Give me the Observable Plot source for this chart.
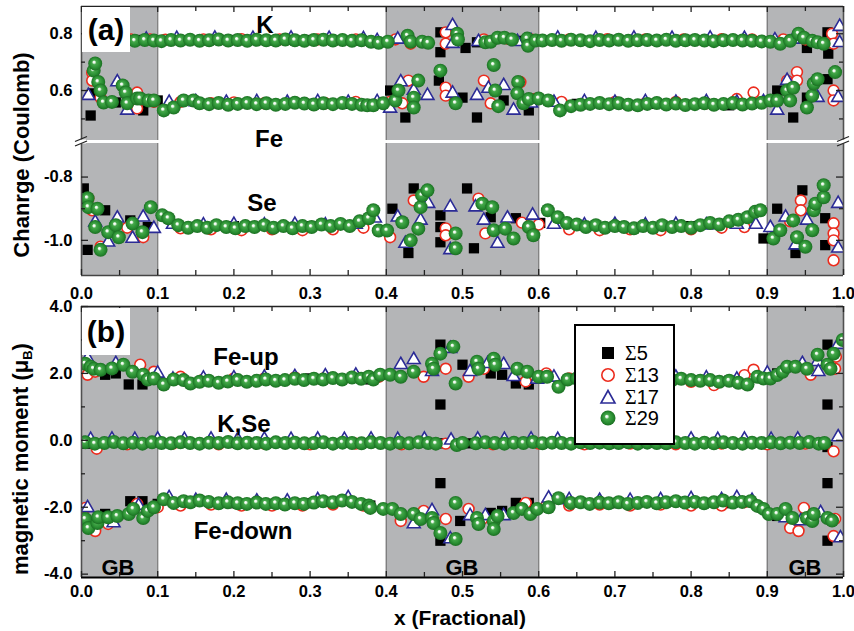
<!DOCTYPE html>
<html><head><meta charset="utf-8">
<script src="https://cdn.jsdelivr.net/npm/d3@7"></script>
<script src="https://cdn.jsdelivr.net/npm/@observablehq/plot@0.6"></script>
<style>
body{margin:0;background:#fff;}
#wrap{position:relative;width:854px;height:631px;overflow:hidden;font-family:"Liberation Sans",Arial,sans-serif;font-weight:bold;color:#000;background:#fff;}
.pl{position:absolute;left:0;}
.lbl{position:absolute;transform:translate(-50%,-50%);white-space:nowrap;font-size:24px;line-height:1;}
.rot{position:absolute;transform:translate(-50%,-50%) rotate(-90deg);white-space:nowrap;font-size:22px;line-height:1;}
.tag{position:absolute;background:#fff;font-size:30px;display:flex;align-items:center;justify-content:center;}
</style></head><body>
<svg width="0" height="0" style="position:absolute"><defs>
<radialGradient id="sphere" cx="0.5" cy="0.5" r="0.5" fx="0.4" fy="0.38">
<stop offset="0" stop-color="#ffffff"/>
<stop offset="0.14" stop-color="#eef8ee"/>
<stop offset="0.32" stop-color="#45a84a"/>
<stop offset="0.7" stop-color="#2a8f33"/>
<stop offset="1" stop-color="#1b6f22"/>
</radialGradient></defs></svg>
<div id="wrap"></div>
<script>
// ---------- axis / category data ----------
const xTicks = [0,0.1,0.2,0.3,0.4,0.5,0.6,0.7,0.8,0.9,1.0];
const xMinor = [0.05,0.15,0.25,0.35,0.45,0.55,0.65,0.75,0.85,0.95];
const gbStart = [0,0.4,0.9];
const gbEnd = [0.1,0.6,1.0];
const gbLabel = ["GB","GB","GB"];
const chargeTopTicks = [0.6,0.8], chargeTopMinor = [0.5,0.7];
const chargeSeTicks = [-1.0,-0.8], chargeSeMinor = [-0.9];
const momentTicks = [-4,-2,0,2,4], momentMinor = [-3,-1,1,3];
const seriesNames = ["Σ5","Σ13","Σ17","Σ29"];

// ---------- K charge ----------
const K_s5 = [[0.03,0.778],[0.08,0.778],[0.2,0.778],[0.3,0.778],[0.471,0.805],[0.471,0.735],[0.504,0.75],[0.519,0.77],[0.572,0.775],[0.7,0.778],[0.8,0.778],[0.952,0.75],[0.979,0.805],[0.98,0.73]];
const K_s13 = [[0.015,0.775],[0.04,0.78],[0.065,0.78],[0.09,0.78],[0.11,0.779],[0.16,0.78],[0.21,0.781],[0.26,0.78],[0.31,0.78],[0.36,0.78],[0.412,0.78],[0.432,0.765],[0.478,0.805],[0.478,0.765],[0.528,0.78],[0.56,0.782],[0.59,0.78],[0.64,0.78],[0.69,0.781],[0.74,0.78],[0.79,0.78],[0.84,0.781],[0.88,0.78],[0.921,0.78],[0.95,0.78],[0.985,0.80],[0.987,0.765]];
const K_s17 = [[0.01,0.778],[0.035,0.78],[0.06,0.78],[0.085,0.78],[0.125,0.783],[0.175,0.784],[0.225,0.783],[0.275,0.784],[0.325,0.783],[0.37,0.782],[0.388,0.775],[0.415,0.78],[0.487,0.828],[0.487,0.765],[0.521,0.772],[0.572,0.772],[0.59,0.775],[0.625,0.784],[0.675,0.783],[0.725,0.784],[0.775,0.783],[0.825,0.784],[0.87,0.783],[0.91,0.778],[0.934,0.78],[0.995,0.825],[0.995,0.768]];
const K_s29 = [[0.008,0.765],[0.02,0.772],[0.033,0.778],[0.045,0.776],[0.058,0.779],[0.07,0.775],[0.083,0.778],[0.095,0.776],
 [0.105,0.774],[0.1175,0.778],[0.13,0.776],[0.1425,0.779],[0.155,0.775],[0.1675,0.777],[0.18,0.780],[0.1925,0.776],[0.205,0.778],[0.2175,0.775],[0.23,0.779],[0.2425,0.777],[0.255,0.776],[0.2675,0.780],[0.28,0.777],[0.2925,0.775],[0.305,0.778],[0.3175,0.779],[0.33,0.776],[0.3425,0.778],[0.355,0.775],[0.3675,0.777],[0.38,0.772],
 [0.39,0.768],[0.402,0.772],[0.428,0.793],[0.432,0.772],[0.447,0.772],[0.455,0.768],[0.493,0.80],[0.494,0.78],[0.53,0.77],[0.537,0.772],[0.546,0.786],[0.555,0.786],[0.565,0.78],[0.585,0.783],[0.586,0.758],[0.596,0.776],
 [0.605,0.776],[0.6175,0.778],[0.63,0.775],[0.6425,0.779],[0.655,0.777],[0.6675,0.774],[0.68,0.778],[0.6925,0.776],[0.705,0.779],[0.7175,0.775],[0.73,0.777],[0.7425,0.778],[0.755,0.776],[0.7675,0.779],[0.78,0.775],[0.7925,0.777],[0.805,0.778],[0.8175,0.776],[0.83,0.774],[0.8425,0.777],[0.855,0.778],[0.8675,0.776],[0.88,0.775],[0.8925,0.773],
 [0.904,0.772],[0.917,0.765],[0.93,0.775],[0.941,0.80],[0.948,0.786],[0.959,0.775],[0.966,0.77],[0.974,0.765]];

// ---------- Fe charge ----------
const Fe_s5 = [[0.012,0.512],[0.016,0.59],[0.045,0.558],[0.081,0.53],[0.1,0.565],[0.3,0.553],[0.35,0.553],[0.405,0.60],[0.425,0.505],[0.469,0.635],[0.5,0.575],[0.519,0.505],[0.554,0.565],[0.587,0.53],[0.65,0.553],[0.75,0.553],[0.85,0.548],[0.913,0.60],[0.934,0.505],[0.952,0.575],[0.979,0.64]];
const Fe_s13 = [[0.014,0.663],[0.014,0.635],[0.025,0.575],[0.073,0.593],[0.073,0.537],[0.095,0.56],[0.13,0.56],[0.17,0.555],[0.2,0.558],[0.24,0.555],[0.28,0.558],[0.32,0.555],[0.36,0.56],[0.405,0.56],[0.421,0.555],[0.429,0.635],[0.478,0.61],[0.478,0.582],[0.528,0.635],[0.537,0.555],[0.576,0.63],[0.595,0.57],[0.63,0.56],[0.66,0.555],[0.7,0.56],[0.74,0.555],[0.78,0.56],[0.82,0.555],[0.86,0.57],[0.882,0.593],[0.926,0.635],[0.939,0.665],[0.939,0.635],[0.987,0.60],[0.987,0.565]];
const Fe_s17 = [[0.009,0.582],[0.047,0.63],[0.06,0.53],[0.08,0.565],[0.115,0.558],[0.15,0.56],[0.19,0.558],[0.23,0.56],[0.27,0.558],[0.31,0.56],[0.35,0.558],[0.388,0.56],[0.405,0.537],[0.419,0.63],[0.436,0.60],[0.454,0.582],[0.487,0.59],[0.519,0.582],[0.534,0.607],[0.554,0.617],[0.567,0.53],[0.59,0.555],[0.62,0.558],[0.66,0.56],[0.7,0.558],[0.74,0.56],[0.78,0.558],[0.82,0.56],[0.86,0.558],[0.895,0.56],[0.913,0.53],[0.926,0.635],[0.966,0.575],[0.993,0.575]];
const Fe_s29 = [[0.016,0.67],[0.018,0.695],[0.022,0.63],[0.025,0.60],[0.029,0.558],[0.04,0.56],[0.054,0.618],[0.058,0.593],[0.06,0.555],[0.073,0.572],[0.077,0.572],[0.088,0.565],[0.095,0.565],
 [0.108,0.53],[0.121,0.54],[0.134,0.565],[0.147,0.565],[0.155,0.555],[0.1675,0.552],[0.18,0.556],[0.1925,0.55],[0.205,0.553],[0.2175,0.556],[0.23,0.552],[0.2425,0.555],[0.255,0.55],[0.2675,0.553],[0.28,0.557],[0.2925,0.554],[0.305,0.551],[0.3175,0.555],[0.33,0.552],[0.3425,0.556],[0.355,0.553],[0.3675,0.55],[0.375,0.548],
 [0.383,0.548],[0.396,0.555],[0.412,0.565],[0.416,0.60],[0.436,0.575],[0.436,0.54],[0.442,0.635],[0.471,0.67],[0.491,0.555],[0.541,0.69],[0.543,0.60],[0.547,0.545],[0.573,0.63],[0.572,0.59],[0.58,0.555],[0.587,0.57],[0.6,0.572],
 [0.6125,0.565],[0.628,0.53],[0.6425,0.545],[0.655,0.55],[0.6675,0.553],[0.68,0.556],[0.6925,0.552],[0.705,0.555],[0.7175,0.55],[0.73,0.548],[0.7425,0.553],[0.755,0.556],[0.7675,0.551],[0.78,0.554],[0.7925,0.549],[0.805,0.552],[0.8175,0.555],[0.83,0.55],[0.8425,0.553],[0.855,0.556],[0.8675,0.551],[0.88,0.554],[0.8925,0.557],
 [0.904,0.565],[0.913,0.565],[0.926,0.60],[0.93,0.565],[0.934,0.61],[0.952,0.54],[0.959,0.582],[0.961,0.625],[0.966,0.64],[0.989,0.665]];

// ---------- Se charge ----------
const Se_s5 = [[0.003,-0.836],[0.005,-0.88],[0.008,-1.03],[0.031,-0.905],[0.064,-0.937],[0.087,-0.958],[0.2,-0.955],[0.3,-0.955],[0.408,-0.9],[0.429,-1.04],[0.436,-0.836],[0.471,-0.921],[0.471,-0.958],[0.471,-1.006],[0.506,-0.836],[0.515,-1.025],[0.537,-0.927],[0.57,-0.93],[0.602,-0.945],[0.7,-0.955],[0.8,-0.955],[0.895,-0.994],[0.913,-0.9],[0.937,-1.04],[0.946,-0.842],[0.976,-0.93],[0.976,-1.015]];
const Se_s13 = [[0.009,-0.867],[0.014,-0.905],[0.025,-1.02],[0.06,-0.96],[0.081,-0.99],[0.13,-0.962],[0.17,-0.965],[0.21,-0.968],[0.25,-0.965],[0.29,-0.968],[0.33,-0.965],[0.37,-0.96],[0.405,-0.99],[0.436,-0.874],[0.478,-0.962],[0.478,-0.984],[0.521,-0.868],[0.53,-0.978],[0.578,-0.944],[0.6,-0.95],[0.64,-0.965],[0.68,-0.968],[0.72,-0.965],[0.76,-0.968],[0.8,-0.965],[0.84,-0.96],[0.87,-0.958],[0.93,-0.94],[0.944,-0.874],[0.944,-0.905],[0.987,-0.946],[0.987,-0.978],[0.987,-1.0],[0.987,-1.063]];
const Se_s17 = [[0.018,-0.943],[0.035,-1.006],[0.047,-0.93],[0.067,-0.994],[0.081,-0.927],[0.095,-0.963],[0.12,-0.95],[0.16,-0.952],[0.2,-0.95],[0.24,-0.952],[0.28,-0.95],[0.32,-0.952],[0.36,-0.95],[0.385,-0.93],[0.415,-0.927],[0.425,-1.01],[0.445,-0.937],[0.455,-0.884],[0.484,-0.895],[0.484,-1.03],[0.517,-0.895],[0.528,-0.937],[0.546,-1.01],[0.559,-0.93],[0.592,-0.921],[0.62,-0.95],[0.66,-0.952],[0.7,-0.95],[0.74,-0.952],[0.78,-0.95],[0.82,-0.952],[0.86,-0.95],[0.885,-0.95],[0.904,-0.96],[0.924,-0.927],[0.937,-1.015],[0.952,-0.937],[0.993,-0.884],[0.993,-1.025]];
const Se_s29 = [[0.008,-0.867],[0.009,-0.895],[0.021,-0.9],[0.018,-0.958],[0.025,-1.03],[0.035,-0.974],[0.045,-0.952],[0.049,-0.99],[0.067,-0.947],[0.08,-0.974],[0.091,-0.895],
 [0.106,-0.921],[0.114,-0.93],[0.127,-0.952],[0.14,-0.96],[0.152,-0.955],[0.165,-0.96],[0.177,-0.952],[0.19,-0.958],[0.202,-0.962],[0.215,-0.955],[0.227,-0.958],[0.24,-0.952],[0.252,-0.96],[0.265,-0.955],[0.277,-0.962],[0.29,-0.955],[0.302,-0.958],[0.315,-0.95],[0.327,-0.955],[0.34,-0.948],[0.352,-0.955],[0.365,-0.94],[0.377,-0.93],
 [0.383,-0.905],[0.39,-0.969],[0.401,-0.969],[0.421,-0.943],[0.432,-1.0],[0.442,-0.963],[0.445,-0.895],[0.447,-0.858],[0.454,-0.842],[0.491,-0.978],[0.491,-1.025],[0.526,-0.884],[0.539,-0.895],[0.541,-0.968],[0.556,-0.963],[0.567,-0.994],[0.587,-0.958],[0.593,-0.984],
 [0.612,-0.905],[0.625,-0.927],[0.637,-0.945],[0.65,-0.95],[0.662,-0.958],[0.675,-0.952],[0.687,-0.96],[0.7,-0.955],[0.712,-0.958],[0.725,-0.962],[0.737,-0.955],[0.75,-0.96],[0.762,-0.952],[0.775,-0.958],[0.787,-0.955],[0.8,-0.96],[0.812,-0.952],[0.825,-0.945],[0.837,-0.95],[0.85,-0.94],[0.862,-0.935],[0.874,-0.927],[0.884,-0.91],[0.891,-0.905],
 [0.908,-0.994],[0.917,-0.968],[0.934,-0.937],[0.939,-0.99],[0.95,-1.02],[0.959,-0.968],[0.961,-0.905],[0.963,-0.884],[0.974,-0.864],[0.974,-0.826]];

// ---------- Fe-up moment ----------
const FeUp_s5 = [[0.031,1.96],[0.045,2.0],[0.062,1.67],[0.08,1.67],[0.2,1.8],[0.3,1.85],[0.379,1.82],[0.471,2.86],[0.471,1.07],[0.5,2.26],[0.537,2.0],[0.552,1.96],[0.57,1.7],[0.587,1.67],[0.7,1.82],[0.8,1.8],[0.85,1.78],[0.913,2.0],[0.979,2.86],[0.979,1.07]];
const FeUp_s13 = [[0.008,1.96],[0.018,2.05],[0.077,2.26],[0.095,2.05],[0.13,1.9],[0.16,1.82],[0.2,1.85],[0.24,1.85],[0.28,1.88],[0.32,1.88],[0.36,1.9],[0.39,1.9],[0.449,1.9],[0.478,2.14],[0.508,1.9],[0.528,2.14],[0.583,1.76],[0.61,2.0],[0.64,1.85],[0.68,1.88],[0.72,1.85],[0.76,1.88],[0.8,1.75],[0.83,1.65],[0.87,1.95],[0.882,2.11],[0.957,1.96],[0.989,2.14],[0.99,2.5]];
const FeUp_s17 = [[0.008,2.44],[0.045,2.29],[0.1,2.0],[0.12,1.82],[0.16,1.85],[0.2,1.86],[0.24,1.88],[0.28,1.9],[0.32,1.92],[0.36,1.94],[0.419,2.26],[0.436,2.41],[0.46,2.05],[0.484,2.74],[0.51,2.05],[0.533,2.29],[0.554,2.26],[0.567,1.9],[0.598,1.82],[0.62,1.88],[0.66,1.9],[0.7,1.88],[0.74,1.9],[0.78,1.88],[0.82,1.86],[0.86,1.82],[0.9,2.0],[0.946,2.29],[0.966,2.35],[0.967,2.05],[0.993,2.86]];
const FeUp_s29 = [[0.005,2.29],[0.012,2.2],[0.016,2.14],[0.025,2.11],[0.04,2.15],[0.055,2.26],[0.067,2.05],[0.081,1.96],[0.087,1.82],[0.095,1.85],
 [0.108,1.67],[0.121,1.82],[0.134,1.8],[0.143,1.7],[0.155,1.75],[0.167,1.78],[0.18,1.72],[0.192,1.76],[0.205,1.8],[0.217,1.75],[0.23,1.78],[0.242,1.82],[0.255,1.78],[0.267,1.8],[0.28,1.84],[0.292,1.8],[0.305,1.84],[0.317,1.82],[0.33,1.86],[0.342,1.82],[0.355,1.88],[0.367,1.84],[0.377,1.9],
 [0.383,1.82],[0.392,1.96],[0.405,1.96],[0.419,1.9],[0.436,2.05],[0.46,2.29],[0.462,2.14],[0.471,2.59],[0.488,2.8],[0.491,1.7],[0.519,2.35],[0.521,2.14],[0.541,2.44],[0.543,2.26],[0.572,2.14],[0.585,2.05],[0.6,1.9],
 [0.611,1.9],[0.626,1.6],[0.638,1.82],[0.65,1.85],[0.662,1.8],[0.675,1.82],[0.687,1.78],[0.7,1.82],[0.712,1.8],[0.725,1.84],[0.737,1.8],[0.75,1.82],[0.762,1.78],[0.775,1.8],[0.787,1.84],[0.8,1.8],[0.812,1.78],[0.825,1.8],[0.837,1.75],[0.85,1.78],[0.862,1.72],[0.874,1.67],[0.887,1.9],[0.895,1.85],
 [0.904,1.85],[0.913,1.95],[0.92,2.05],[0.926,2.2],[0.937,2.2],[0.952,2.14],[0.966,2.56],[0.979,2.26],[0.983,2.14],[0.987,2.59],[0.999,3.0]];

// ---------- K,Se moment ----------
const KSe_s5 = [[0.005,-0.1],[0.2,-0.08],[0.3,-0.08],[0.471,-0.09],[0.506,-0.09],[0.7,-0.08],[0.8,-0.08],[0.979,-0.2]];
const KSe_s13 = [[0.02,-0.25],[0.06,-0.12],[0.12,-0.1],[0.18,-0.12],[0.24,-0.1],[0.3,-0.12],[0.36,-0.1],[0.42,-0.12],[0.478,-0.1],[0.54,-0.12],[0.6,-0.1],[0.66,-0.12],[0.72,-0.1],[0.78,-0.12],[0.84,-0.1],[0.9,-0.12],[0.95,-0.1],[0.987,-0.33]];
const KSe_s17 = [[0.012,0.02],[0.04,0.03],[0.07,0.02],[0.1,0.03],[0.135,0.02],[0.17,0.03],[0.205,0.02],[0.24,0.03],[0.275,0.02],[0.31,0.03],[0.345,0.02],[0.38,0.03],[0.415,0.02],[0.45,0.03],[0.485,0.0],[0.52,0.03],[0.555,0.02],[0.59,0.03],[0.625,0.02],[0.66,0.03],[0.695,0.02],[0.73,0.03],[0.765,0.02],[0.8,0.03],[0.835,0.02],[0.87,0.03],[0.905,0.02],[0.94,0.03],[0.993,0.1]];
const KSe_s29 = [[0.005,-0.06],[0.0175,-0.1],[0.03,-0.08],[0.0425,-0.05],[0.055,-0.09],[0.0675,-0.07],[0.08,-0.1],[0.0925,-0.06],[0.105,-0.08],[0.1175,-0.09],[0.13,-0.06],[0.1425,-0.08],[0.155,-0.1],[0.1675,-0.07],[0.18,-0.08],[0.1925,-0.05],[0.205,-0.09],[0.2175,-0.07],[0.23,-0.08],[0.2425,-0.1],[0.255,-0.06],[0.2675,-0.08],[0.28,-0.07],[0.2925,-0.09],[0.305,-0.08],[0.3175,-0.06],[0.33,-0.1],[0.3425,-0.07],[0.355,-0.08],[0.3675,-0.09],[0.38,-0.06],[0.3925,-0.08],[0.405,-0.1],[0.4175,-0.07],[0.43,-0.09],[0.4425,-0.06],[0.455,-0.08],[0.465,-0.1],[0.4925,-0.14],[0.5,-0.08],[0.5175,-0.09],[0.53,-0.06],[0.5425,-0.08],[0.555,-0.1],[0.5675,-0.07],[0.58,-0.08],[0.5925,-0.05],[0.605,-0.09],[0.6175,-0.07],[0.63,-0.08],[0.6425,-0.1],[0.655,-0.06],[0.6675,-0.08],[0.68,-0.07],[0.6925,-0.09],[0.705,-0.08],[0.7175,-0.06],[0.73,-0.1],[0.7425,-0.07],[0.755,-0.08],[0.7675,-0.09],[0.78,-0.06],[0.7925,-0.08],[0.805,-0.1],[0.8175,-0.07],[0.83,-0.09],[0.8425,-0.06],[0.855,-0.08],[0.8675,-0.1],[0.88,-0.07],[0.8925,-0.08],[0.905,-0.06],[0.9175,-0.09],[0.93,-0.07],[0.9425,-0.08],[0.955,-0.05],[0.9675,-0.1],[0.975,-0.08]];

// ---------- Fe-down moment ----------
const FeDown_s5 = [[0.031,-2.2],[0.064,-1.82],[0.08,-1.82],[0.1,-1.9],[0.2,-1.88],[0.3,-1.88],[0.379,-1.95],[0.471,-1.28],[0.471,-3.0],[0.497,-2.41],[0.537,-2.17],[0.552,-2.11],[0.57,-1.87],[0.587,-1.87],[0.7,-1.88],[0.8,-1.88],[0.85,-1.88],[0.913,-2.26],[0.979,-1.28],[0.979,-3.0]];
const FeDown_s13 = [[0.005,-2.02],[0.018,-2.71],[0.035,-2.5],[0.073,-1.9],[0.1,-2.0],[0.13,-1.95],[0.17,-1.92],[0.21,-1.95],[0.25,-1.95],[0.29,-1.95],[0.33,-1.92],[0.37,-1.95],[0.419,-2.41],[0.449,-2.11],[0.478,-2.35],[0.508,-2.05],[0.526,-2.35],[0.583,-1.87],[0.61,-1.95],[0.64,-1.95],[0.68,-1.92],[0.72,-1.95],[0.76,-1.92],[0.8,-1.95],[0.84,-1.95],[0.87,-1.85],[0.93,-2.62],[0.941,-2.71],[0.948,-2.02],[0.987,-2.86],[0.989,-2.35]];
const FeDown_s17 = [[0.008,-2.02],[0.042,-2.47],[0.075,-1.95],[0.115,-1.72],[0.15,-1.8],[0.19,-1.8],[0.23,-1.82],[0.27,-1.82],[0.31,-1.78],[0.35,-1.72],[0.436,-2.5],[0.46,-2.11],[0.484,-2.95],[0.51,-2.26],[0.53,-2.26],[0.554,-2.26],[0.613,-1.73],[0.64,-1.78],[0.68,-1.8],[0.72,-1.8],[0.76,-1.78],[0.8,-1.75],[0.84,-1.78],[0.86,-1.72],[0.88,-1.8],[0.924,-2.32],[0.944,-2.41],[0.97,-2.17],[0.996,-2.92]];
const FeDown_s29 = [[0.005,-2.35],[0.009,-2.62],[0.021,-2.47],[0.022,-2.3],[0.035,-2.3],[0.047,-2.26],[0.062,-2.2],[0.068,-2.05],[0.081,-2.32],[0.087,-2.11],[0.095,-2.0],
 [0.108,-1.76],[0.121,-1.87],[0.134,-1.82],[0.143,-1.85],[0.155,-1.8],[0.167,-1.84],[0.18,-1.88],[0.192,-1.85],[0.205,-1.88],[0.217,-1.9],[0.23,-1.86],[0.242,-1.9],[0.255,-1.88],[0.267,-1.92],[0.28,-1.88],[0.292,-1.9],[0.305,-1.86],[0.317,-1.82],[0.33,-1.85],[0.342,-1.8],[0.355,-1.84],[0.367,-1.9],[0.377,-1.95],
 [0.379,-2.02],[0.396,-2.05],[0.408,-2.05],[0.419,-2.2],[0.436,-2.2],[0.445,-2.35],[0.46,-2.32],[0.462,-2.47],[0.471,-2.77],[0.491,-1.87],[0.491,-2.95],[0.519,-2.32],[0.521,-2.5],[0.541,-2.41],[0.541,-2.65],[0.546,-2.26],[0.567,-2.17],[0.578,-2.05],[0.589,-2.2],[0.598,-2.05],
 [0.613,-2.0],[0.626,-1.73],[0.642,-1.87],[0.655,-1.85],[0.667,-1.9],[0.68,-1.86],[0.692,-1.88],[0.705,-1.85],[0.717,-1.9],[0.73,-1.87],[0.742,-1.84],[0.755,-1.88],[0.767,-1.85],[0.78,-1.82],[0.792,-1.86],[0.805,-1.84],[0.817,-1.88],[0.83,-1.85],[0.842,-1.8],[0.855,-1.86],[0.867,-1.84],[0.878,-1.82],[0.887,-1.96],[0.895,-2.05],
 [0.902,-2.2],[0.913,-2.2],[0.924,-2.05],[0.933,-2.32],[0.952,-2.32],[0.959,-2.41],[0.961,-2.2],[0.979,-2.32],[0.985,-2.4]];

// ---------- drawing ----------
const W = 854, ML = 81, MR = 11;
const wrap = document.getElementById("wrap");
const gb = gbStart.map((s, i) => ({s, e: gbEnd[i]}));
const gbEdges = gbStart.slice(1).concat(gbEnd.slice(0, 2));
const X = d => d[0], Y = d => d[1];

function panel(o) {
  const ph = o.height - o.mt - o.mb, pw = W - ML - MR;
  const marks = [
    Plot.rect(gb, {x1: "s", x2: "e", fill: "#b4b5b7"}),
    Plot.ruleX(gbEdges, {stroke: "#7d7d7d", strokeWidth: 1.3}),
    Plot.dot(o.s5, {x: X, y: Y, symbol: "square", r: 5.8, fill: "#000", clip: true}),
    Plot.dot(o.s13, {x: X, y: Y, symbol: "circle", r: 5.4, fill: "#fff", stroke: "#ec2c1e", strokeWidth: 1.6, clip: true}),
    Plot.dot(o.s17, {x: X, y: Y, symbol: "triangle", r: 4.8, fill: "#fff", stroke: "#2b2b96", strokeWidth: 1.6, clip: true}),
    Plot.dot(o.s29, {x: X, y: Y, symbol: "circle", r: 7, fill: "url(#sphere)", clip: true}),
    Plot.ruleX([0, 1], {stroke: "#505050", strokeWidth: 1.6}),
    Plot.tickY(o.yMajor, {y: d => d, insetRight: pw - 7, stroke: "#222", strokeWidth: 1.3}),
    Plot.tickY(o.yMajor, {y: d => d, insetLeft: pw - 7, stroke: "#222", strokeWidth: 1.3}),
    Plot.tickY(o.yMinor, {y: d => d, insetRight: pw - 4, stroke: "#222", strokeWidth: 1.3}),
    Plot.tickY(o.yMinor, {y: d => d, insetLeft: pw - 4, stroke: "#222", strokeWidth: 1.3}),
    Plot.axisY(o.yMajor, {anchor: "left", tickSize: 0, tickPadding: 9, tickFormat: d => d.toFixed(1), label: null})
  ];
  if (o.topEdge) marks.push(
    Plot.ruleY([o.domain[1]], {stroke: "#222", strokeWidth: 1.6}),
    Plot.tickX(xTicks, {x: d => d, insetBottom: ph - 6, stroke: "#222", strokeWidth: 1.3}),
    Plot.tickX(xMinor, {x: d => d, insetBottom: ph - 5, stroke: "#222", strokeWidth: 1.3}));
  if (o.bottomEdge) marks.push(
    Plot.ruleY([o.domain[0]], {stroke: o.bottomColor, strokeWidth: o.bottomWidth}),
    Plot.tickX(xTicks, {x: d => d, insetTop: ph - 6, stroke: "#222", strokeWidth: 1.3}),
    Plot.tickX(xMinor, {x: d => d, insetTop: ph - 5, stroke: "#222", strokeWidth: 1.3}),
    Plot.axisX(xTicks, {anchor: "bottom", tickSize: 0, tickPadding: o.xPad, tickFormat: d => d.toFixed(1), label: null}));
  const svg = Plot.plot({
    width: W, height: o.height, marginLeft: ML, marginRight: MR, marginTop: o.mt, marginBottom: o.mb,
    x: {domain: [0, 1], axis: null}, y: {domain: o.domain, axis: null},
    style: {background: "transparent", fontFamily: "'Liberation Sans', Arial, sans-serif", fontSize: "16.5px", fontWeight: "bold", color: "#000", overflow: "visible"},
    marks
  });
  svg.classList.add("pl");
  svg.style.top = o.top + "px";
  svg.style.position = "absolute";
  wrap.appendChild(svg);
}

panel({top: 0, height: 143, mt: 6, mb: 3, domain: [0.424, 0.896], yMajor: chargeTopTicks, yMinor: chargeTopMinor,
  s5: K_s5.concat(Fe_s5), s13: K_s13.concat(Fe_s13), s17: K_s17.concat(Fe_s17), s29: K_s29.concat(Fe_s29), topEdge: true});
panel({top: 140, height: 160, mt: 3, mb: 25, domain: [-1.111, -0.694], yMajor: chargeSeTicks, yMinor: chargeSeMinor,
  s5: Se_s5, s13: Se_s13, s17: Se_s17, s29: Se_s29, bottomEdge: true, bottomColor: "#444", bottomWidth: 1.6, xPad: 12});
panel({top: 300, height: 331, mt: 6, mb: 54, domain: [-4.1, 4.0], yMajor: momentTicks, yMinor: momentMinor,
  s5: FeUp_s5.concat(KSe_s5, FeDown_s5), s13: FeUp_s13.concat(KSe_s13, FeDown_s13), s17: FeUp_s17.concat(KSe_s17, FeDown_s17), s29: FeUp_s29.concat(KSe_s29, FeDown_s29),
  topEdge: true, bottomEdge: true, bottomColor: "#000", bottomWidth: 2.2, xPad: 8});

// ---------- overlays ----------
function addDiv(cls, html, css) {
  const d = document.createElement("div");
  d.className = cls; d.innerHTML = html; Object.assign(d.style, css); wrap.appendChild(d); return d;
}
// break marks
const brk = document.createElementNS("http://www.w3.org/2000/svg", "svg");
brk.setAttribute("width", W); brk.setAttribute("height", 631);
brk.style.position = "absolute"; brk.style.left = "0"; brk.style.top = "0";
brk.innerHTML = `<rect x="78" y="139.5" width="8" height="4" fill="#fff"/><rect x="839" y="139.5" width="8" height="4" fill="#fff"/>
<path d="M75,141.5 L87,136.5 M75,146 L87,141" stroke="#222" stroke-width="1.3" fill="none"/>
<path d="M837,141.5 L849,136.5 M837,146 L849,141" stroke="#222" stroke-width="1.3" fill="none"/>`;
wrap.appendChild(brk);

addDiv("tag", "(a)", {left: "82px", top: "7px", width: "48px", height: "45px"});
addDiv("tag", "(b)", {left: "82px", top: "308px", width: "48px", height: "47px"});

addDiv("lbl", "K", {left: "265px", top: "25px"});
addDiv("lbl", "Fe", {left: "269px", top: "139px"});
addDiv("lbl", "Se", {left: "262px", top: "203px"});
addDiv("lbl", "Fe-up", {left: "246px", top: "357px"});
addDiv("lbl", "K,Se", {left: "244px", top: "424px"});
addDiv("lbl", "Fe-down", {left: "243px", top: "531px"});
const gbPx = [118, 462, 805];
gbLabel.forEach((t, i) => addDiv("lbl", t, {left: gbPx[i] + "px", top: "568px", fontSize: "22px"}));

addDiv("rot", "Chanrge (Coulomb)", {left: "22px", top: "155px"});
addDiv("rot", "magnetic moment (μ<sub style='font-size:13px;vertical-align:-4px'>B</sub>)", {left: "22px", top: "459px"});
addDiv("lbl", "x (Fractional)", {left: "460px", top: "617px", fontSize: "21px"});

// legend
const leg = addDiv("", "", {position: "absolute", left: "574px", top: "324px", width: "97px", height: "117px", border: "2px solid #000", background: "#fff"});
const legSym = [
  `<rect x="3" y="3" width="12" height="12" fill="#000"/>`,
  `<circle cx="9" cy="9" r="6.2" fill="#fff" stroke="#ec2c1e" stroke-width="1.6"/>`,
  `<path d="M9,2.5 L16,15 L2,15 Z" fill="#fff" stroke="#2b2b96" stroke-width="1.6"/>`,
  `<circle cx="9" cy="9" r="7.5" fill="url(#sphere)"/>`
];
const legY = [27, 49, 71, 92];
seriesNames.forEach((n, i) => {
  const row = document.createElement("div");
  Object.assign(row.style, {position: "absolute", left: "23px", top: (legY[i] - 9) + "px", height: "18px", display: "flex", alignItems: "center"});
  row.innerHTML = `<svg width="18" height="18">${legSym[i]}</svg><span style="margin-left:8px;font-weight:normal;font-size:20px;line-height:18px"><span style="font-family:'Liberation Serif','DejaVu Serif',serif">${n[0]}</span>${n.slice(1)}</span>`;
  leg.appendChild(row);
});
</script>
</body></html>
